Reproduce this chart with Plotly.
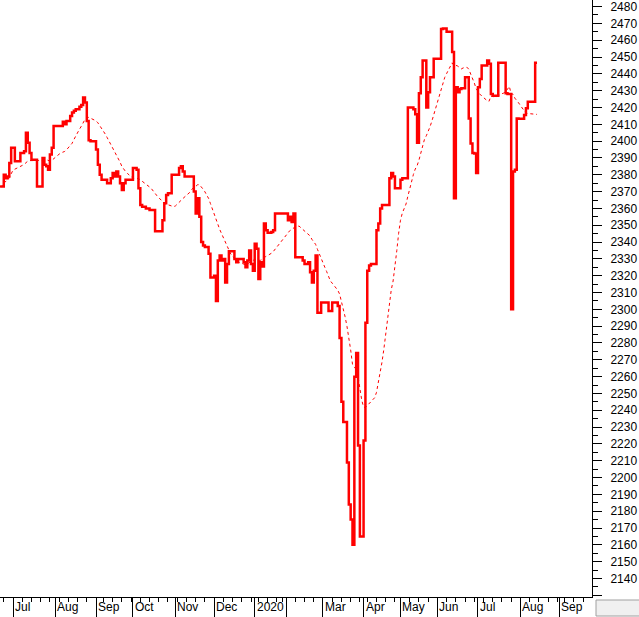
import numpy as np
import pandas as pd
import plotly.graph_objects as go

# ---------------- data ----------------
start_date = "2019-06-20"
end_date = "2020-09-30"
market_holidays = ["2019-09-02", "2020-01-01", "2020-01-23", "2020-01-24", "2020-01-27",
                   "2020-01-28", "2020-01-29", "2020-04-02", "2020-04-30", "2020-05-01",
                   "2020-09-02"]

close = [
    2373, 2373, 2380, 2378, 2379, 2387, 2396, 2396, 2388, 2388,
    2388, 2393, 2393, 2394, 2405, 2399, 2393, 2389, 2389, 2389,
    2373, 2373, 2373, 2390, 2386, 2385, 2383, 2392, 2396, 2409,
    2409, 2409, 2409, 2409, 2411.5, 2410, 2412, 2412, 2415, 2417,
    2418, 2419, 2419, 2420.5, 2421.5, 2426, 2423, 2412, 2400.5, 2400,
    2400, 2400, 2395, 2386, 2380, 2377, 2377, 2377, 2375, 2375,
    2378, 2381, 2379, 2382, 2379, 2375, 2371, 2375, 2377, 2377,
    2377, 2377, 2384, 2384, 2383, 2372, 2362, 2361, 2361, 2360,
    2360, 2359, 2359, 2359, 2346.5, 2346.5, 2346.5, 2346.5, 2353, 2363,
    2368, 2369, 2369, 2380, 2380, 2380, 2380, 2384, 2385, 2382,
    2379, 2379, 2379, 2379, 2379, 2370, 2357, 2366, 2355, 2340,
    2338, 2337, 2337, 2333, 2319, 2319, 2320, 2305, 2329, 2332,
    2329, 2330, 2316, 2327, 2334.5, 2334.5, 2334.5, 2330, 2328, 2330,
    2330, 2330, 2328, 2325, 2329, 2335, 2327, 2323, 2339, 2336,
    2318, 2328, 2325.5, 2351, 2347, 2345.5, 2345.5, 2346, 2347, 2357,
    2357, 2357, 2357, 2357, 2357, 2357, 2353, 2355, 2352, 2357,
    2331, 2331, 2331, 2331, 2329, 2327, 2327, 2328, 2322, 2316,
    2323, 2332, 2298, 2298, 2304, 2304, 2304, 2304, 2299, 2299,
    2304, 2304, 2304, 2302, 2283, 2245, 2233, 2233, 2209, 2184,
    2175, 2160, 2260, 2274, 2219, 2165, 2165, 2222, 2292, 2323,
    2326, 2327, 2327, 2327, 2347, 2351, 2360, 2362, 2362, 2362,
    2362, 2378, 2381, 2379, 2372, 2372, 2372, 2377, 2378, 2378,
    2378, 2420, 2420, 2420, 2419, 2416, 2399, 2428.5, 2438, 2448,
    2448, 2420, 2429, 2438, 2438, 2449, 2449, 2449, 2449, 2466.6,
    2467, 2467, 2465, 2465, 2465, 2453, 2366, 2432, 2429, 2431,
    2431.4, 2431.4, 2438, 2438, 2413.5, 2398.6, 2393, 2392.7, 2381, 2432,
    2437, 2445, 2445, 2445, 2448, 2446, 2428, 2427, 2427, 2427,
    2446.6, 2446.6, 2446.6, 2446.6, 2428.4, 2428, 2428, 2300, 2382, 2383,
    2413.5, 2413.3, 2413.3, 2413.3, 2415.5, 2419.5, 2423.4, 2423.4, 2423.4, 2423.4,
    2446.6, 2446.6,
]

ma_window = 20

month_labels = {
    "2019-07": "Jul", "2019-08": "Aug", "2019-09": "Sep", "2019-10": "Oct",
    "2019-11": "Nov", "2019-12": "Dec", "2020-01": "2020", "2020-02": "",
    "2020-03": "Mar", "2020-04": "Apr", "2020-05": "May", "2020-06": "Jun",
    "2020-07": "Jul", "2020-08": "Aug", "2020-09": "Sep",
}

y_tick_values = list(range(2130, 2490, 10))
y_tick_labels = ["" if v == 2130 else str(v) for v in y_tick_values]

# ---------------- trading calendar ----------------
days = pd.bdate_range(start_date, end_date)
days = days[~days.isin(pd.to_datetime(market_holidays))]
idx = np.arange(len(days))
n = len(close)
x_data = idx[:n]

ma = pd.Series(close, dtype=float).rolling(ma_window, min_periods=1).mean()

period = days.strftime("%Y-%m")
month_starts = [i for i in range(1, len(days)) if period[i] != period[i - 1]]
week_id = days.isocalendar().week.values
week_starts = [i for i in range(1, len(days)) if week_id[i] != week_id[i - 1]]

FONT = "Arial, Liberation Sans, sans-serif"

fig = go.Figure()
fig.add_trace(go.Scatter(
    x=x_data, y=close, mode="lines",
    line=dict(color="#ff0000", width=2.5, shape="hv"),
    hoverinfo="skip", showlegend=False,
))
fig.add_trace(go.Scatter(
    x=x_data, y=ma, mode="lines",
    line=dict(color="#ff0000", width=1, dash="dot"),
    hoverinfo="skip", showlegend=False,
))

annotations = []
for i in month_starts:
    lab = month_labels.get(period[i], "")
    if lab:
        annotations.append(dict(
            x=i, y=-0.0168, xref="x", yref="paper", text=lab, showarrow=False,
            xanchor="left", yanchor="middle", xshift=0,
            font=dict(family=FONT, size=12, color="black"),
        ))

fig.update_layout(
    template="none",
    width=639, height=617,
    margin=dict(l=0, r=47, t=0, b=20, pad=0),
    paper_bgcolor="white", plot_bgcolor="white",
    showlegend=False,
    xaxis=dict(
        range=[-0.046, 320.8], automargin=False,
        tickvals=month_starts, showticklabels=False,
        ticks="outside", ticklen=20, tickwidth=1, tickcolor="black",
        showline=True, linecolor="black", linewidth=1,
        showgrid=False, zeroline=False,
        minor=dict(tickvals=week_starts, ticks="outside", ticklen=4,
                   tickwidth=1, tickcolor="black", showgrid=False),
    ),
    yaxis=dict(
        side="right", range=[2129.0, 2483.9], automargin=False,
        tickmode="array", tickvals=y_tick_values, ticktext=y_tick_labels,
        ticks="outside", ticklen=9, tickwidth=1, tickcolor="black",
        showline=True, linecolor="black", linewidth=1,
        showgrid=False, zeroline=False,
        ticklabelstandoff=6, ticklabeloverflow="allow",
        tickfont=dict(family=FONT, size=12, color="black"),
        minor=dict(dtick=5, tick0=2130, ticks="outside", ticklen=5,
                   tickwidth=1, tickcolor="black", showgrid=False),
    ),
    annotations=annotations,
    shapes=[dict(
        type="rect", xref="paper", yref="paper",
        x0=596 / 592, x1=640 / 592, y0=(597 - 616) / 597, y1=(597 - 600) / 597,
        fillcolor="#f0f0f0", line=dict(color="#a0a0a0", width=1),
    )],
)

fig.write_html(
    "out.html",
    config={"displayModeBar": False, "staticPlot": True},
    post_script="document.body.style.margin='0';document.body.style.overflow='hidden';",
)
